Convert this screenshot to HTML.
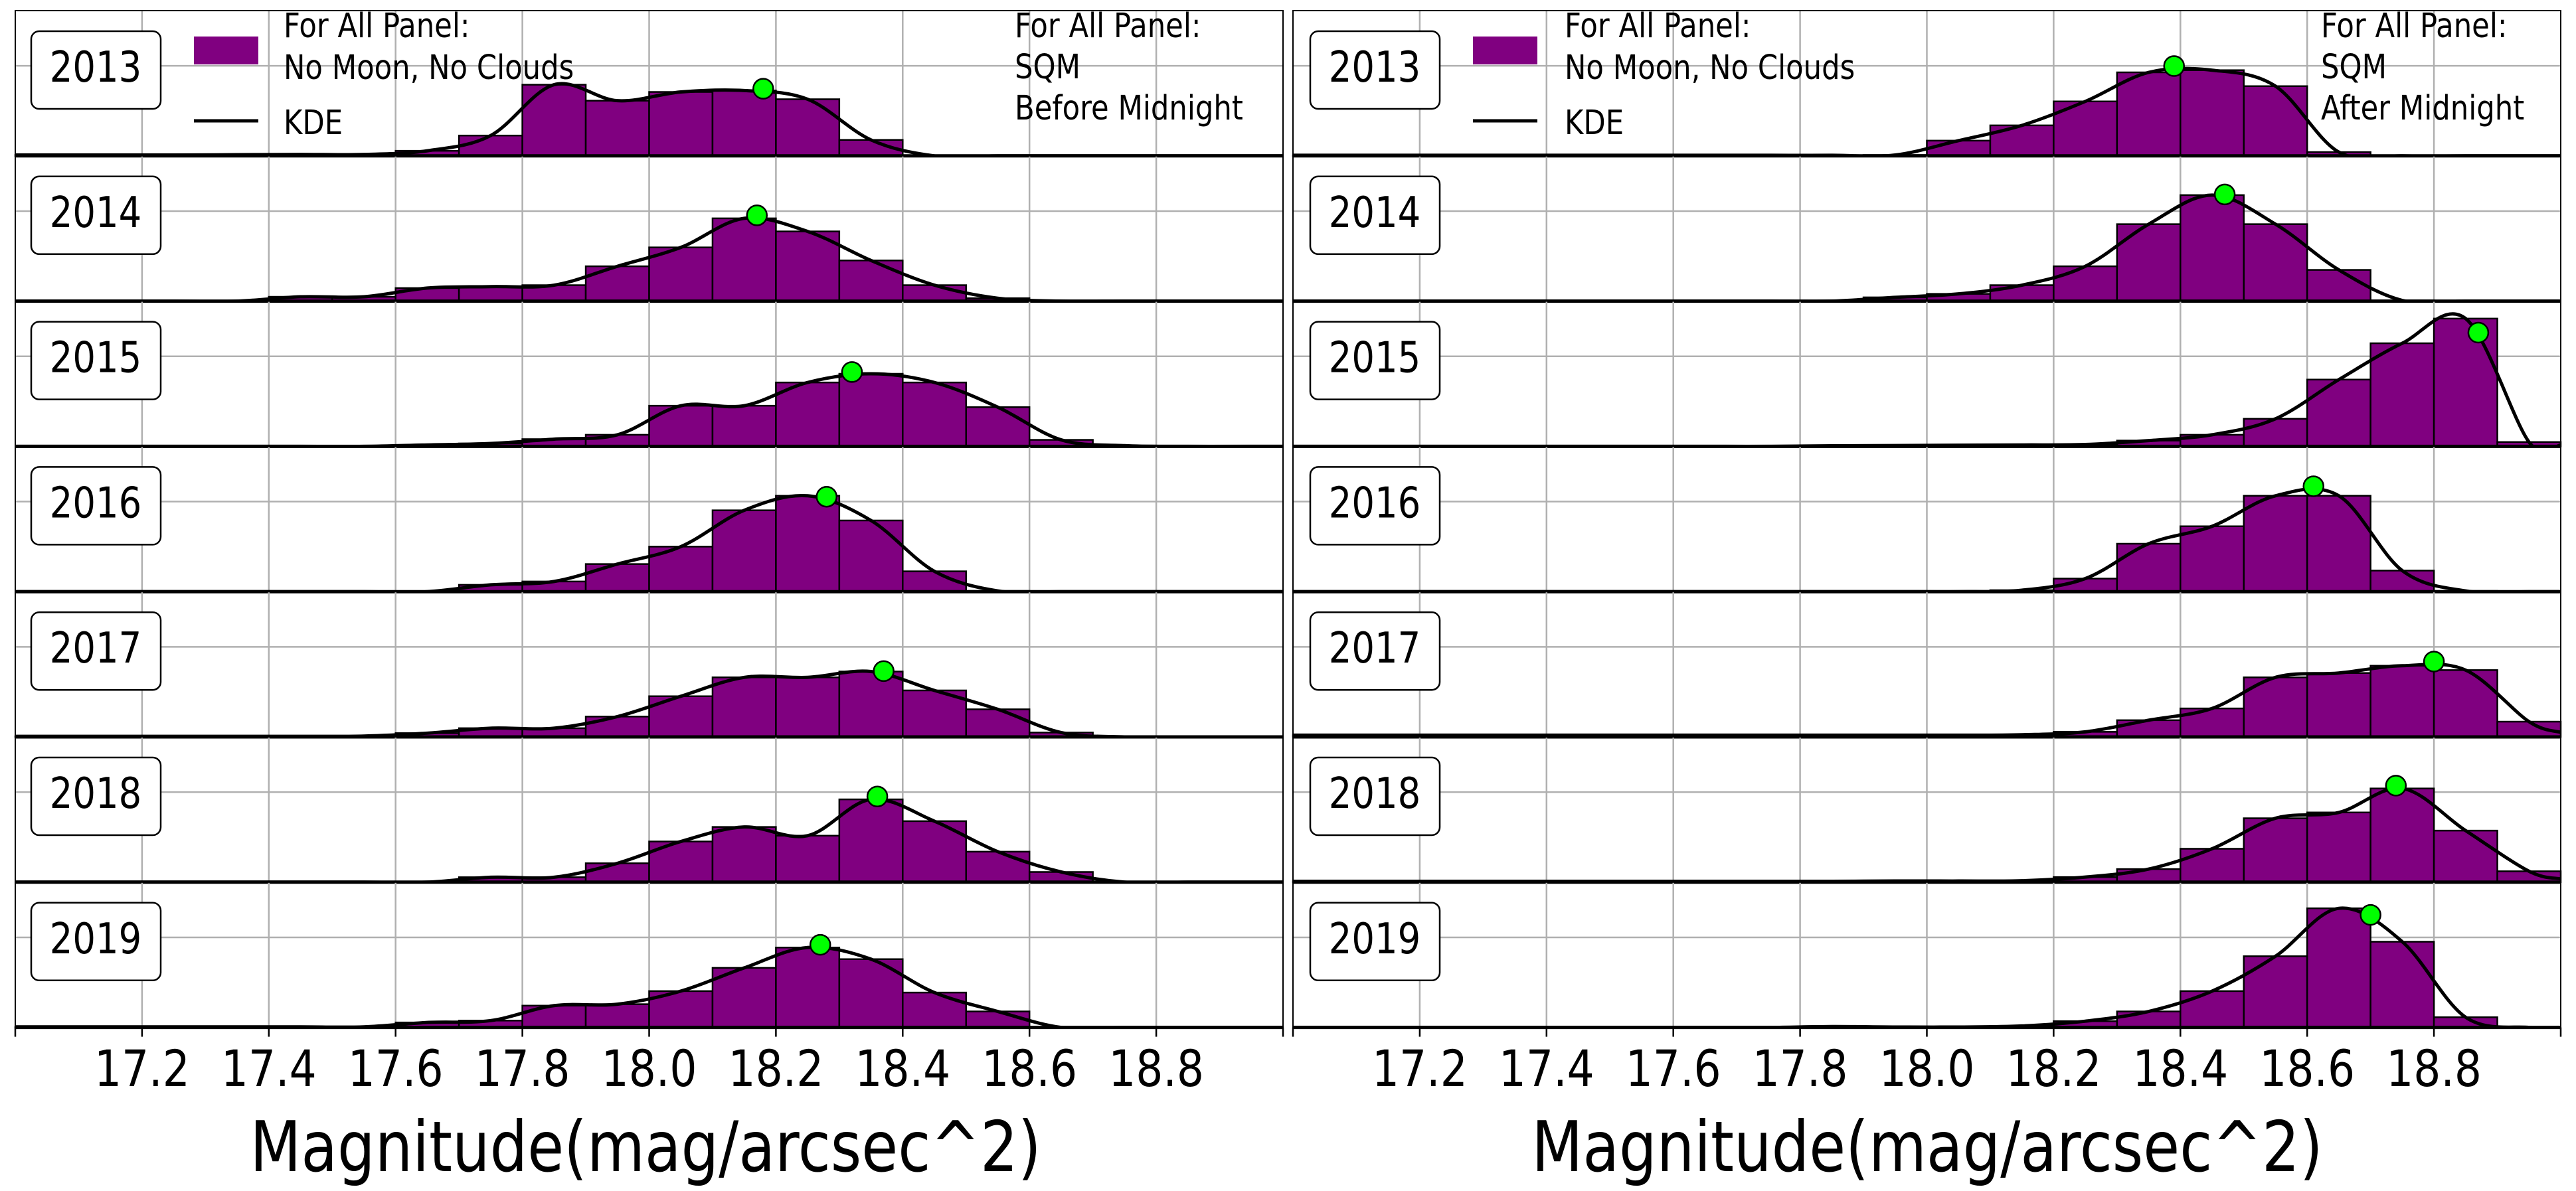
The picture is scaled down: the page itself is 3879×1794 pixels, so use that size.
<!DOCTYPE html>
<html><head><meta charset="utf-8"><style>
html,body{margin:0;padding:0;background:#fff;}
svg{display:block;font-family:"DejaVu Sans","Liberation Sans",sans-serif;}
</style></head><body>
<svg id="fig" xmlns="http://www.w3.org/2000/svg" width="3879" height="1794" viewBox="0 0 3879 1794">
<rect width="3879" height="1794" fill="#fff"/>
<defs id="defs"></defs>
<g id="root"></g>
</svg>
<script>
// ---- data ----
const years = [2013, 2014, 2015, 2016, 2017, 2018, 2019];
const binStart = 17.0;
const binWidth = 0.1;
const xTickLabels = ["17.2","17.4","17.6","17.8","18.0","18.2","18.4","18.6","18.8"];
const xTickValues = [17.2,17.4,17.6,17.8,18.0,18.2,18.4,18.6,18.8];
// Before midnight histograms (bins 17.0 .. 19.0, width 0.1)
const before2013 = [0.006,0.006,0.006,0.008,0.01,0.01,0.035,0.14,0.49,0.38,0.44,0.45,0.39,0.11,0,0,0,0,0,0];
const before2014 = [0,0,0,0,0.03,0.03,0.09,0.10,0.11,0.24,0.37,0.57,0.48,0.28,0.11,0.02,0,0,0,0];
const before2015 = [0,0,0,0,0,0,0.01,0.02,0.05,0.08,0.28,0.28,0.44,0.50,0.44,0.27,0.045,0.005,0,0];
const before2016 = [0,0,0,0,0,0,0,0.047,0.07,0.19,0.31,0.56,0.66,0.49,0.14,0.005,0,0,0,0];
const before2017 = [0.004,0.004,0.004,0.004,0.004,0.006,0.026,0.06,0.06,0.14,0.28,0.41,0.41,0.45,0.32,0.19,0.03,0,0,0];
const before2018 = [0,0,0,0,0,0,0,0.034,0.034,0.13,0.28,0.38,0.32,0.57,0.42,0.21,0.07,0,0,0];
const before2019 = [0.004,0.004,0.004,0.004,0.004,0.004,0.034,0.047,0.15,0.16,0.25,0.41,0.55,0.47,0.24,0.11,0,0,0,0];
// After midnight histograms
const after2013 = [0.004,0.004,0.004,0.004,0.004,0.004,0.004,0.004,0.004,0.006,0.105,0.21,0.375,0.575,0.59,0.48,0.026,0,0,0];
const after2014 = [0,0,0,0,0,0,0,0,0,0.026,0.05,0.11,0.24,0.53,0.73,0.53,0.215,0.005,0,0];
const after2015 = [0,0,0,0,0,0,0,0,0.004,0.006,0.008,0.01,0.013,0.04,0.08,0.19,0.46,0.71,0.88,0.03];
const after2016 = [0,0,0,0,0,0,0,0,0,0,0,0.01,0.09,0.33,0.45,0.66,0.66,0.145,0.005,0];
const after2017 = [0.012,0.012,0.012,0.012,0.012,0.012,0.012,0.012,0.012,0.012,0.012,0.015,0.035,0.115,0.196,0.41,0.44,0.49,0.46,0.105];
const after2018 = [0.006,0.006,0.006,0.006,0.006,0.006,0.006,0.006,0.006,0.008,0.008,0.01,0.035,0.09,0.23,0.44,0.48,0.645,0.355,0.075];
const after2019 = [0,0,0,0,0,0,0,0,0.006,0.003,0.003,0.01,0.043,0.11,0.25,0.49,0.82,0.59,0.07,0];
// KDE peak (mode) positions
const peaksBefore = [18.18, 18.17, 18.32, 18.28, 18.37, 18.36, 18.27];
const peaksAfter = [18.39, 18.47, 18.87, 18.61, 18.80, 18.74, 18.70];

const beforeSeries = [before2013,before2014,before2015,before2016,before2017,before2018,before2019];
const afterSeries = [after2013,after2014,after2015,after2016,after2017,after2018,after2019];

// ---- layout ----
const NS = "http://www.w3.org/2000/svg";
const root = document.getElementById('root');
const defs = document.getElementById('defs');
const panelTop0 = 16, panelH = 218.8;
const columns = [
  {x0: 23, x1: 1932, series: beforeSeries, peaks: peaksBefore, side: 'before', legX: 292, legTextX: 427, noteX: 1528, note: ["For All Panel:","SQM","Before Midnight"], boxX: 47, labelCx: 972},
  {x0: 1947, x1: 3856, series: afterSeries, peaks: peaksAfter, side: 'after', legX: 2218, legTextX: 2356, noteX: 3495, note: ["For All Panel:","SQM","After Midnight"], boxX: 1973, labelCx: 2902}
];
const xMin = 17.0, xMax = 19.0;

function el(tag, attrs, parent){
  const e = document.createElementNS(NS, tag);
  for (const k in attrs) e.setAttribute(k, attrs[k]);
  (parent||root).appendChild(e);
  return e;
}
function txt(x, y, s, size, anchor, parent, name){
  const g = el('g', {transform: `translate(${x},${y}) scale(0.85,1)`}, parent);
  const t = el('text', {x:0, y:0, 'font-size':size, 'text-anchor':anchor||'start', fill:'#000'}, g);
  t.textContent = s;
  
  
  return t;
}
function catmull(pts){
  let d = `M${pts[0][0]},${pts[0][1]}`;
  for (let i=0;i<pts.length-1;i++){
    const p0 = pts[Math.max(0,i-1)], p1 = pts[i], p2 = pts[i+1], p3 = pts[Math.min(pts.length-1,i+2)];
    const c1 = [p1[0]+(p2[0]-p0[0])/6, p1[1]+(p2[1]-p0[1])/6];
    const c2 = [p2[0]-(p3[0]-p1[0])/6, p2[1]-(p3[1]-p1[1])/6];
    d += ` C${c1[0]},${c1[1]} ${c2[0]},${c2[1]} ${p2[0]},${p2[1]}`;
  }
  return d;
}

columns.forEach((col, ci) => {
  const xs = v => col.x0 + (v - xMin) / (xMax - xMin) * (col.x1 - col.x0);
  const colG = el('g', {});
  
  
  years.forEach((yr, pi) => {
    const top = panelTop0 + pi * panelH, bot = top + panelH;
    const ys = v => bot - v * panelH;
    const cid = `clip-${col.side}-${yr}`;
    const cp = el('clipPath', {id: cid}, defs);
    el('rect', {x:col.x0, y:top, width:col.x1-col.x0, height:panelH}, cp);
    const pg = el('g', {}, colG);
    
    
    // grid
    xTickValues.forEach(v => {
      const gl = el('line', {x1:xs(v), x2:xs(v), y1:top, y2:bot, stroke:'#b0b0b0', 'stroke-width':2.5}, pg);
      
      
    });
    const hg = el('line', {x1:col.x0, x2:col.x1, y1:ys(0.62), y2:ys(0.62), stroke:'#b0b0b0', 'stroke-width':2.5}, pg);
    
    
    // bars
    const data = col.series[pi];
    data.forEach((v, k) => {
      if (v <= 0) return;
      const a = binStart + k*binWidth;
      const r = el('rect', {x:xs(a), y:ys(v), width:xs(a+binWidth)-xs(a), height:ys(0)-ys(v), fill:'#800080', stroke:'#000', 'stroke-width':2.5}, pg);
      
      
    });
    // KDE curve
    const pts = [[xs(xMin), ys(data[0])]];
    data.forEach((v,k) => pts.push([xs(binStart + (k+0.5)*binWidth), ys(v)]));
    pts.push([xs(xMax), ys(data[data.length-1]*0.3)]);
    const kde = el('path', {d:catmull(pts), fill:'none', stroke:'#000', 'stroke-width':5, 'stroke-linejoin':'round', 'clip-path':`url(#${cid})`}, pg);
    
    
    // peak marker on the curve at the mode position
    const px = xs(col.peaks[pi]);
    let best = null;
    const L = kde.getTotalLength();
    for (let s = 0; s <= L; s += 2){
      const p = kde.getPointAtLength(s);
      if (!best || Math.abs(p.x - px) < Math.abs(best.x - px)) best = p;
    }
    const my = best ? Math.min(best.y, ys(0.05)) : ys(0.5);
    const mc = el('circle', {cx:px, cy:my - 4, r:15, fill:'#00ff00', stroke:'#000', 'stroke-width':2.5}, pg);
    
    
    // frame
    const sp = el('rect', {x:col.x0, y:top, width:col.x1-col.x0, height:panelH, fill:'none', stroke:'#000', 'stroke-width':2}, pg);
    
    
    const bl = el('line', {x1:col.x0, x2:col.x1, y1:bot, y2:bot, stroke:'#000', 'stroke-width':5}, pg);
    
    
    // year box
    const yb = el('rect', {x:col.boxX, y:top+31, width:195, height:117, rx:12, fill:'#fff', stroke:'#000', 'stroke-width':2.5}, pg);
    
    
    txt(col.boxX + 97, top + 107, String(yr), 64, 'middle', pg, `year-label-${yr}`);
  });
  // legend
  const sq = el('rect', {x:col.legX, y:55, width:97, height:42, fill:'#800080'}, colG);
  
  
  const ln = el('line', {x1:col.legX, x2:col.legX+97, y1:182, y2:182, stroke:'#000', 'stroke-width':5}, colG);
  
  
  txt(col.legTextX, 56, "For All Panel:", 51, 'start', colG, 'legend-title');
  txt(col.legTextX, 119, "No Moon, No Clouds", 51, 'start', colG, 'legend-histogram-label');
  txt(col.legTextX, 202, "KDE", 51, 'start', colG, 'legend-kde-label');
  col.note.forEach((s,i) => txt(col.noteX, 56 + i*62, s, 51, 'start', colG, 'panel-note-line'));
  // ticks
  const bot = panelTop0 + 7*panelH;
  xTickValues.forEach((v,i) => {
    const tk = el('line', {x1:xs(v), x2:xs(v), y1:bot, y2:bot+14, stroke:'#000', 'stroke-width':2.5}, colG);
    
    
    txt(xs(v), 1636, xTickLabels[i], 76, 'middle', colG, 'x-tick-label');
  });
  [xMin, xMax].forEach(v => {
    const tk = el('line', {x1:xs(v), x2:xs(v), y1:bot, y2:bot+14, stroke:'#000', 'stroke-width':2.5}, colG);
    
    
  });
  txt(col.labelCx, 1764, "Magnitude(mag/arcsec^2)", 105, 'middle', colG, 'x-axis-title');
});
</script>
</body></html>
